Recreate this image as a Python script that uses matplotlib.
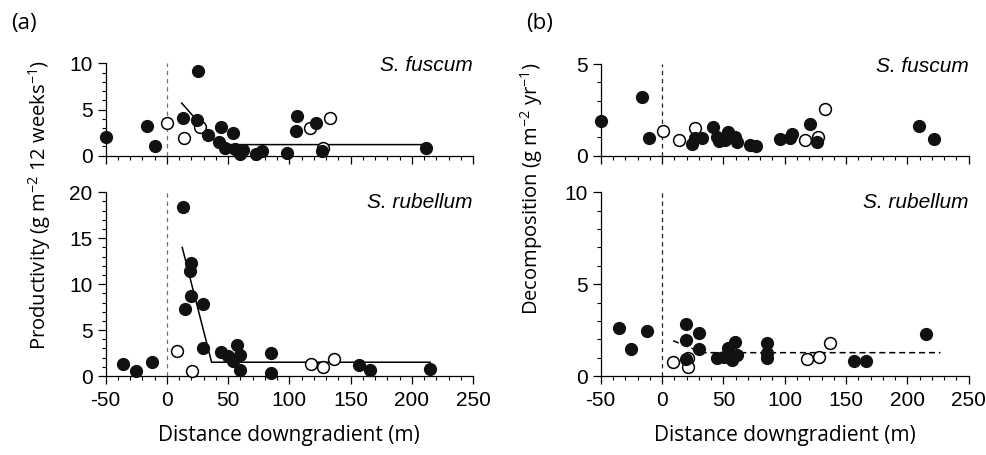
import numpy as np
import matplotlib
matplotlib.use("Agg")
from matplotlib import pyplot as plt
from matplotlib.ticker import MultipleLocator

# productivity, S. fuscum (filled = downgradient plots, open = controls)
prodFusX = [-50, -16, -9.8, 12.8, 25, 24.2, 33.2, 44.1, 42.7, 47.4, 54.2, 55.5, 59.6, 62.3,
            72.7, 77.3, 97.7, 106.4, 105.3, 121.6, 127, 211.4]
prodFusY = [2.0, 3.25, 1.05, 4.08, 9.17, 3.83, 2.24, 3.07, 1.48, 0.79, 2.42, 0.72, 0.14, 0.61,
            0.18, 0.5, 0.32, 4.3, 2.7, 3.57, 0.5, 0.79]
prodFusOpenX = [0.3, 13.9, 27, 116.7, 127.6, 133.6]
prodFusOpenY = [3.5, 1.95, 3.07, 2.96, 0.87, 4.04]
prodFusFitX = [12, 42, 211]
prodFusFitY = [5.7, 1.2, 1.2]

# productivity, S. rubellum
prodRubX = [-35.6, -25.3, -12.5, 12.8, 19.6, 18.8, 14.7, 19.6, 29.7, 29.7, 44.1, 49.5, 54.2,
            56.9, 59.6, 59.6, 85.4, 85.4, 156.7, 165.7, 214.6]
prodRubY = [1.31, 0.58, 1.52, 18.37, 12.27, 11.43, 7.3, 8.71, 7.8, 3.09, 2.61, 2.18, 1.6,
            3.38, 2.32, 0.65, 2.47, 0.29, 1.23, 0.65, 0.8]
prodRubOpenX = [8.5, 20.7, 118, 127.6, 136.6]
prodRubOpenY = [2.72, 0.58, 1.27, 0.94, 1.85]
prodRubFitX = [12.5, 36.5, 215]
prodRubFitY = [14.0, 1.5, 1.5]

# decomposition, S. fuscum
decFusX = [-50, -16, -10.3, 24.2, 26.9, 32.9, 41.8, 46.7, 44.6, 54, 59.5, 60.9, 51.6, 71.7,
           76.6, 96.2, 105.7, 104.3, 120.7, 126.1, 209.8, 222]
decFusY = [1.89, 3.22, 0.98, 0.62, 0.95, 0.95, 1.58, 0.8, 1.04, 1.31, 1.04, 0.76, 0.85, 0.58,
           0.53, 0.89, 1.16, 0.95, 1.71, 0.75, 1.64, 0.89]
decFusOpenX = [1.1, 13.9, 26.9, 116.6, 127.2, 132.9]
decFusOpenY = [1.35, 0.85, 1.49, 0.85, 1.04, 2.55]

# decomposition, S. rubellum
decRubX = [-35.1, -25.3, -12, 19.6, 19.6, 19.6, 30.4, 30.4, 44.6, 50.8, 54, 56.8, 59.5, 60.9,
           85.9, 85.9, 85.9, 156.8, 166, 215.2]
decRubY = [2.6, 1.47, 2.45, 2.81, 1.96, 0.93, 2.32, 1.45, 0.96, 1.05, 1.51, 0.87, 1.87, 1.14,
           1.81, 0.96, 1.23, 0.82, 0.82, 2.29]
decRubOpenX = [9.2, 20.9, 20.9, 117.9, 128, 137]
decRubOpenY = [0.74, 1.0, 0.47, 0.93, 1.05, 1.81]
decRubFitX = [9, 33, 227]
decRubFitY = [1.92, 1.27, 1.27]

tickFont = "Liberation Sans"
labelFont = "Open Sans"
plt.rcParams["font.family"] = tickFont
plt.rcParams["axes.unicode_minus"] = False
plt.rcParams["mathtext.fontset"] = "custom"
plt.rcParams["mathtext.rm"] = labelFont
plt.rcParams["mathtext.it"] = labelFont + ":italic"

W, H = 987, 455
fig = plt.figure(figsize=(W / 100, H / 100), dpi=100)

def box(x0, x1, ytop, ybot):
    return [x0 / W, (H - ybot) / H, (x1 - x0) / W, (ybot - ytop) / H]

def panel(rect, ymax, ymaj, filledX, filledY, openX, openY, name, nameY, vcol,
          fit=None, fitStyle="-", showX=False):
    ax = fig.add_axes(rect)
    ax.set_xlim(-50, 250)
    ax.set_ylim(0, ymax)
    for s in ["top", "right"]:
        ax.spines[s].set_visible(False)
    for s in ["left", "bottom"]:
        ax.spines[s].set_linewidth(0.9)
    ax.xaxis.set_major_locator(MultipleLocator(50))
    ax.xaxis.set_minor_locator(MultipleLocator(10))
    ax.yaxis.set_major_locator(MultipleLocator(ymaj))
    ax.yaxis.set_minor_locator(MultipleLocator(1))
    ax.tick_params(which="major", direction="out", length=5.5, width=0.9, labelsize=15)
    ax.tick_params(which="minor", direction="out", length=3, width=0.8)
    ax.tick_params(axis="x", which="major", pad=5)
    ax.tick_params(axis="y", which="major", pad=4)
    if not showX:
        ax.tick_params(axis="x", labelbottom=False)
    ax.axvline(0, color=vcol, lw=0.9, ls=(0, (3.5, 3)), zorder=1)
    if fit is not None:
        ax.plot(fit[0], fit[1], color="black", lw=1.1, ls=fitStyle, zorder=2)
    ax.plot(openX, openY, "o", ms=8.5, mfc="white", mec="black", mew=1.1, clip_on=False, zorder=3)
    ax.plot(filledX, filledY, "o", ms=8.5, mfc="#111111", mec="#111111", mew=1.0, clip_on=False,
            zorder=4)
    ax.text(1.0, nameY, name, transform=ax.transAxes, ha="right", va="center",
            fontsize=15, style="italic", family=tickFont)
    return ax

panel(box(105.7, 473, 63.3, 155.7), 10, 5, prodFusX, prodFusY, prodFusOpenX, prodFusOpenY,
      "S. fuscum", 0.974, "0.45", fit=(prodFusFitX, prodFusFitY))
axA = panel(box(105.7, 473, 192.3, 376), 20, 5, prodRubX, prodRubY, prodRubOpenX, prodRubOpenY,
            "S. rubellum", 0.943, "0.45", fit=(prodRubFitX, prodRubFitY), showX=True)
panel(box(600.7, 968.7, 64, 155.7), 5, 5, decFusX, decFusY, decFusOpenX, decFusOpenY,
      "S. fuscum", 0.97, "0.15")
axB = panel(box(600.7, 968.7, 192.3, 376), 10, 5, decRubX, decRubY, decRubOpenX, decRubOpenY,
            "S. rubellum", 0.943, "0.15", fit=(decRubFitX, decRubFitY), fitStyle=(0, (4, 2.5)),
            showX=True)

for ax in [axA, axB]:
    ax.set_xlabel("Distance downgradient (m)", fontsize=15, family=labelFont, labelpad=11)

fig.text(40 / W, 1 - 205 / H, "Productivity (g m$^{-2}$ 12 weeks$^{-1}$)", rotation=90,
         ha="center", va="center", fontsize=14.5, family=labelFont)
fig.text(532 / W, 1 - 189 / H, "Decomposition (g m$^{-2}$ yr$^{-1}$)", rotation=90,
         ha="center", va="center", fontsize=14.5, family=labelFont)
fig.text(11 / W, 1 - 23 / H, "(a)", ha="left", va="center", fontsize=16, family=labelFont)
fig.text(526 / W, 1 - 23 / H, "(b)", ha="left", va="center", fontsize=16, family=labelFont)

fig.savefig("out.png", dpi=100)
